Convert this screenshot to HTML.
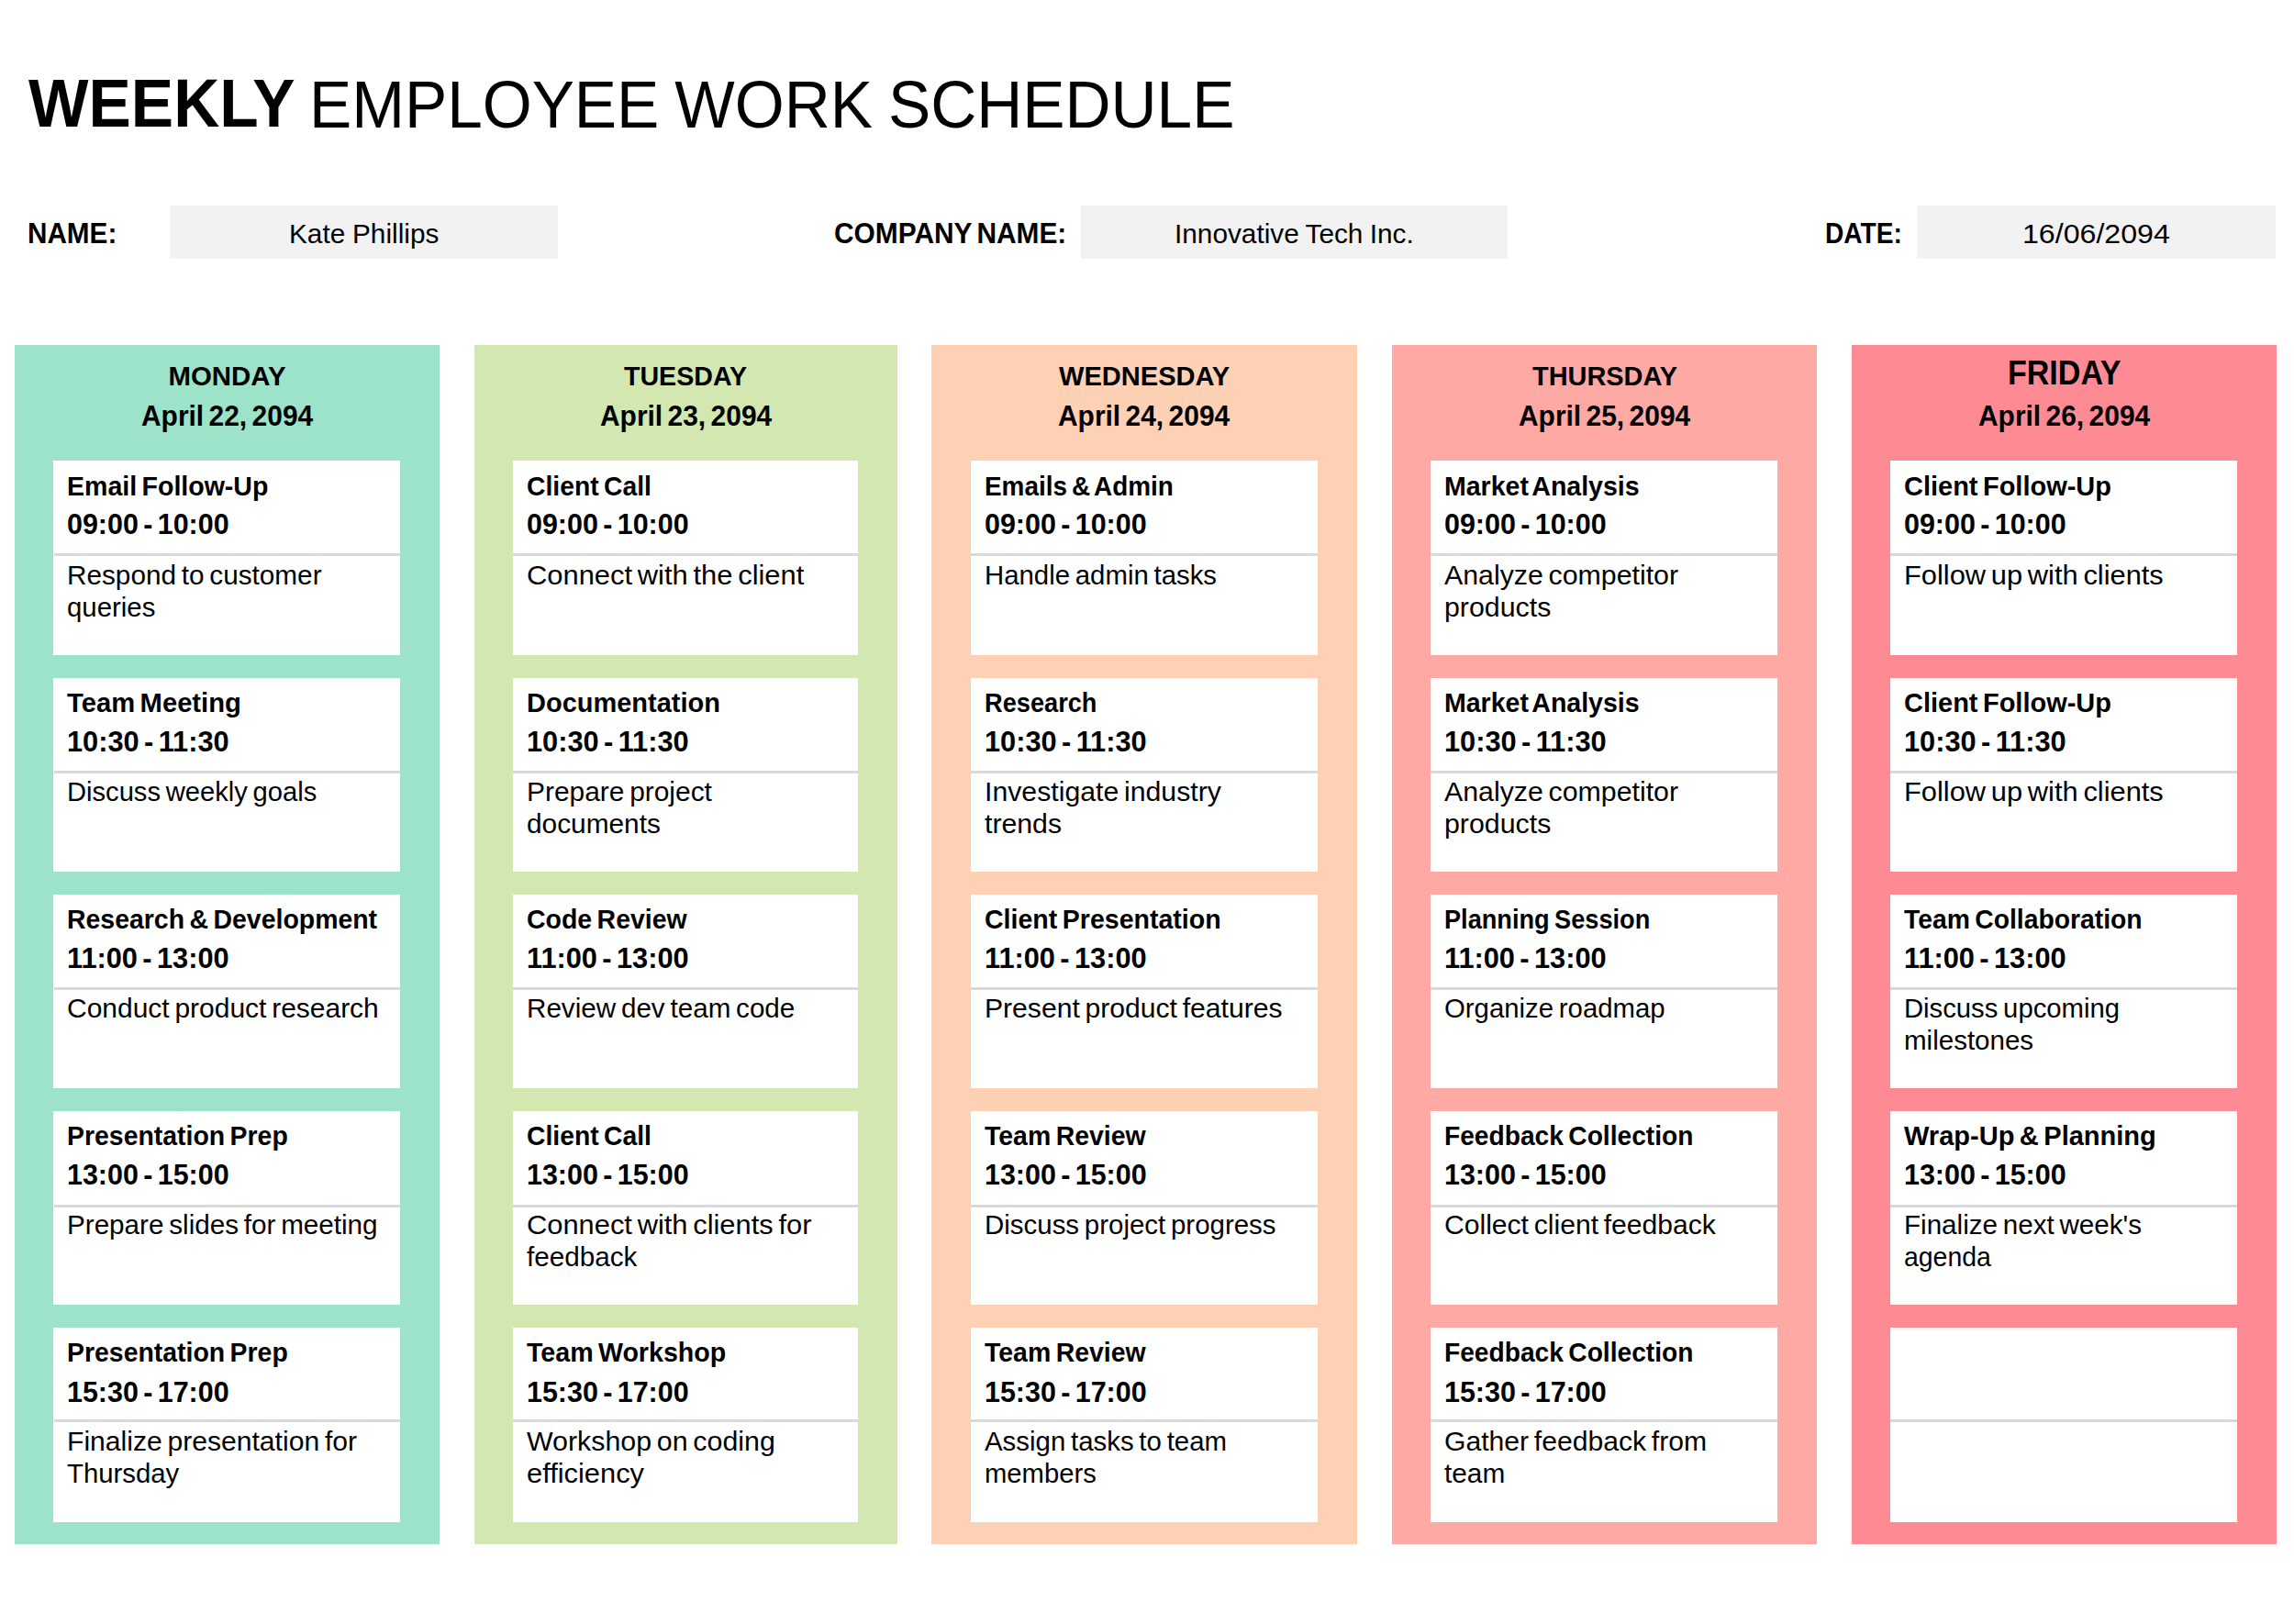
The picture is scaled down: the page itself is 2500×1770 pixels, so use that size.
<!DOCTYPE html>
<html lang="en">
<head>
<meta charset="utf-8">
<title>Weekly Employee Work Schedule</title>
<style>
html,body{margin:0;padding:0;background:#fff}
#page{position:relative;width:2500px;height:1770px;overflow:hidden;background:#fff;color:#000;font-family:"Liberation Sans",sans-serif}
#page *{box-sizing:border-box}
.title,.fields,.board,.col,.card,.rule,.box,.t{position:absolute;margin:0;padding:0;border:0}
.title,.fields,.board{left:0;top:0;width:2500px;height:0}
.card{background:#fff}.rule{background:#d9d9d9;height:3px}.box{background:#f2f2f2}
.t{white-space:pre;font-variant-ligatures:none;transform-origin:0 0}
.tb{font-size:73.29px;font-weight:700;line-height:95px;height:95px}
.tr{font-size:73.13px;font-weight:400;line-height:95px;height:95px}
.lb{font-size:31.5px;font-weight:700;line-height:41px;height:41px}
.fv{font-size:30.3px;font-weight:400;line-height:39px;height:39px}
.fd{font-size:30.1px;font-weight:400;line-height:39px;height:39px}
.dn{font-size:29.45px;font-weight:700;line-height:38px;height:38px}
.dF{font-size:36.26px;font-weight:700;line-height:47px;height:47px}
.dd{font-size:31.05px;font-weight:700;line-height:40px;height:40px}
.ct{font-size:30px;font-weight:700;line-height:39px;height:39px}
.cm{font-size:31.14px;font-weight:700;line-height:40px;height:40px}
.cb{font-size:30px;font-weight:400;line-height:39px;height:39px}
</style>
</head>
<body>
<div id="page">
<h1 class="title">
  <span class="t tb" style="left:30.5px;top:65.8px;transform:scaleX(0.9474)">WEEKLY</span>
  <span class="t tr" style="left:337px;top:65.8px;transform:scaleX(0.9480);word-spacing:-2.37px">EMPLOYEE WORK SCHEDULE</span>
</h1>
<div class="fields">
  <label class="t lb" style="left:29.5px;top:233.5px;transform:scaleX(0.9422)">NAME:</label>
  <div class="box" style="left:185px;top:224px;width:423px;height:58px"><span class="t fv" style="left:129.83px;top:11px;transform:scaleX(0.9828);word-spacing:-0.54px">Kate Phillips</span></div>
  <label class="t lb" style="left:909px;top:233.5px;transform:scaleX(0.9487);word-spacing:-3.07px">COMPANY NAME:</label>
  <div class="box" style="left:1178px;top:224px;width:465px;height:58px"><span class="t fv" style="left:101.86px;top:11px;transform:scaleX(0.9829);word-spacing:-1.01px">Innovative Tech Inc.</span></div>
  <label class="t lb" style="left:1988.5px;top:233.5px;transform:scaleX(0.8928)">DATE:</label>
  <div class="box" style="left:2089px;top:224px;width:391px;height:58px"><span class="t fd" style="left:115.11px;top:11px;transform:scaleX(1.0674)">16/06/2094</span></div>
</div>
<main class="board">
  <section class="col" style="left:16px;top:376px;width:463px;height:1307px;background:#9de3c9">
    <h2 class="t dn" style="left:167.42px;top:14.5px;transform:scaleX(1.0000)">MONDAY</h2>
    <div class="t dd" style="left:137.89px;top:57.9px;transform:scaleX(0.9640);word-spacing:-3.02px">April 22, 2094</div>
    <article class="card" style="left:42px;top:126px;width:378px;height:212px">
      <h3 class="t ct" style="left:15.39px;top:7.8px;transform:scaleX(0.9508);word-spacing:-2.6px">Email Follow-Up</h3>
      <div class="t cm" style="left:15.39px;top:50.3px;transform:scaleX(0.9781);word-spacing:-3.15px">09:00 - 10:00</div>
      <div class="rule" style="left:1px;top:101px;width:377px"></div>
      <p class="t cb" style="left:15px;top:104.9px;transform:scaleX(0.9908);word-spacing:-2.51px">Respond to customer</p>
      <p class="t cb" style="left:15px;top:140.1px;transform:scaleX(0.9789)">queries</p>
    </article>
    <article class="card" style="left:42px;top:363px;width:378px;height:211px">
      <h3 class="t ct" style="left:15.39px;top:6.8px;transform:scaleX(0.9734);word-spacing:-2.74px">Team Meeting</h3>
      <div class="t cm" style="left:15.39px;top:49.6px;transform:scaleX(0.9881);word-spacing:-3.2px">10:30 - 11:30</div>
      <div class="rule" style="left:1px;top:101px;width:377px"></div>
      <p class="t cb" style="left:15px;top:103.9px;transform:scaleX(0.9712);word-spacing:-2.4px">Discuss weekly goals</p>
    </article>
    <article class="card" style="left:42px;top:599px;width:378px;height:211px">
      <h3 class="t ct" style="left:15.39px;top:6.8px;transform:scaleX(0.9480);word-spacing:-2.59px">Research &amp; Development</h3>
      <div class="t cm" style="left:15.39px;top:49.7px;transform:scaleX(0.9881);word-spacing:-3.2px">11:00 - 13:00</div>
      <div class="rule" style="left:1px;top:101px;width:377px"></div>
      <p class="t cb" style="left:15px;top:104px;transform:scaleX(0.9992);word-spacing:-2.57px">Conduct product research</p>
    </article>
    <article class="card" style="left:42px;top:835px;width:378px;height:211px">
      <h3 class="t ct" style="left:15.39px;top:6.8px;transform:scaleX(0.9473);word-spacing:-2.58px">Presentation Prep</h3>
      <div class="t cm" style="left:15.39px;top:50px;transform:scaleX(0.9781);word-spacing:-3.15px">13:00 - 15:00</div>
      <div class="rule" style="left:1px;top:102px;width:377px"></div>
      <p class="t cb" style="left:15px;top:104px;transform:scaleX(0.9880);word-spacing:-2.49px">Prepare slides for meeting</p>
    </article>
    <article class="card" style="left:42px;top:1071px;width:378px;height:212px">
      <h3 class="t ct" style="left:15.39px;top:6.8px;transform:scaleX(0.9473);word-spacing:-2.58px">Presentation Prep</h3>
      <div class="t cm" style="left:15.39px;top:50.7px;transform:scaleX(0.9781);word-spacing:-3.15px">15:30 - 17:00</div>
      <div class="rule" style="left:1px;top:100px;width:377px"></div>
      <p class="t cb" style="left:15px;top:104px;transform:scaleX(1.0032);word-spacing:-2.59px">Finalize presentation for</p>
      <p class="t cb" style="left:15px;top:139.2px;transform:scaleX(0.9778)">Thursday</p>
    </article>
  </section>
  <section class="col" style="left:517px;top:376px;width:461px;height:1307px;background:#d3e8b0">
    <h2 class="t dn" style="left:163.48px;top:14.5px;transform:scaleX(0.9715)">TUESDAY</h2>
    <div class="t dd" style="left:136.89px;top:57.9px;transform:scaleX(0.9640);word-spacing:-3.02px">April 23, 2094</div>
    <article class="card" style="left:42px;top:126px;width:376px;height:212px">
      <h3 class="t ct" style="left:15.09px;top:7.8px;transform:scaleX(0.9430);word-spacing:-2.56px">Client Call</h3>
      <div class="t cm" style="left:15.09px;top:50.3px;transform:scaleX(0.9781);word-spacing:-3.15px">09:00 - 10:00</div>
      <div class="rule" style="left:0px;top:101px;width:376px"></div>
      <p class="t cb" style="left:14.69px;top:104.9px;transform:scaleX(1.0295);word-spacing:-2.73px">Connect with the client</p>
    </article>
    <article class="card" style="left:42px;top:363px;width:376px;height:211px">
      <h3 class="t ct" style="left:15.09px;top:6.8px;transform:scaleX(0.9660)">Documentation</h3>
      <div class="t cm" style="left:15.09px;top:49.6px;transform:scaleX(0.9881);word-spacing:-3.2px">10:30 - 11:30</div>
      <div class="rule" style="left:0px;top:101px;width:376px"></div>
      <p class="t cb" style="left:14.69px;top:103.9px;transform:scaleX(0.9967);word-spacing:-2.54px">Prepare project</p>
      <p class="t cb" style="left:14.69px;top:139.1px;transform:scaleX(0.9940)">documents</p>
    </article>
    <article class="card" style="left:42px;top:599px;width:376px;height:211px">
      <h3 class="t ct" style="left:15.09px;top:6.8px;transform:scaleX(0.9488);word-spacing:-2.59px">Code Review</h3>
      <div class="t cm" style="left:15.09px;top:49.7px;transform:scaleX(0.9881);word-spacing:-3.2px">11:00 - 13:00</div>
      <div class="rule" style="left:0px;top:101px;width:376px"></div>
      <p class="t cb" style="left:14.69px;top:104px;transform:scaleX(0.9876);word-spacing:-2.5px">Review dev team code</p>
    </article>
    <article class="card" style="left:42px;top:835px;width:376px;height:211px">
      <h3 class="t ct" style="left:15.09px;top:6.8px;transform:scaleX(0.9430);word-spacing:-2.56px">Client Call</h3>
      <div class="t cm" style="left:15.09px;top:50px;transform:scaleX(0.9781);word-spacing:-3.15px">13:00 - 15:00</div>
      <div class="rule" style="left:0px;top:102px;width:376px"></div>
      <p class="t cb" style="left:14.69px;top:104px;transform:scaleX(1.0280);word-spacing:-2.73px">Connect with clients for</p>
      <p class="t cb" style="left:14.69px;top:139.2px;transform:scaleX(0.9878)">feedback</p>
    </article>
    <article class="card" style="left:42px;top:1071px;width:376px;height:212px">
      <h3 class="t ct" style="left:15.09px;top:6.8px;transform:scaleX(0.9540);word-spacing:-2.84px">Team Workshop</h3>
      <div class="t cm" style="left:15.09px;top:50.7px;transform:scaleX(0.9781);word-spacing:-3.15px">15:30 - 17:00</div>
      <div class="rule" style="left:0px;top:100px;width:376px"></div>
      <p class="t cb" style="left:14.69px;top:104px;transform:scaleX(1.0116);word-spacing:-2.63px">Workshop on coding</p>
      <p class="t cb" style="left:14.69px;top:139.2px;transform:scaleX(1.0277)">efficiency</p>
    </article>
  </section>
  <section class="col" style="left:1015px;top:376px;width:464px;height:1307px;background:#fed1b5">
    <h2 class="t dn" style="left:138.88px;top:14.5px;transform:scaleX(0.9872)">WEDNESDAY</h2>
    <div class="t dd" style="left:138.39px;top:57.9px;transform:scaleX(0.9640);word-spacing:-3.02px">April 24, 2094</div>
    <article class="card" style="left:43px;top:126px;width:378px;height:212px">
      <h3 class="t ct" style="left:15px;top:7.8px;transform:scaleX(0.9305);word-spacing:-3.03px">Emails &amp; Admin</h3>
      <div class="t cm" style="left:15px;top:50.3px;transform:scaleX(0.9781);word-spacing:-3.15px">09:00 - 10:00</div>
      <div class="rule" style="left:0px;top:101px;width:378px"></div>
      <p class="t cb" style="left:14.59px;top:104.9px;transform:scaleX(0.9785);word-spacing:-2.44px">Handle admin tasks</p>
    </article>
    <article class="card" style="left:43px;top:363px;width:378px;height:211px">
      <h3 class="t ct" style="left:15px;top:6.8px;transform:scaleX(0.9064)">Research</h3>
      <div class="t cm" style="left:15px;top:49.6px;transform:scaleX(0.9881);word-spacing:-3.2px">10:30 - 11:30</div>
      <div class="rule" style="left:0px;top:101px;width:378px"></div>
      <p class="t cb" style="left:14.59px;top:103.9px;transform:scaleX(1.0079);word-spacing:-2.6px">Investigate industry</p>
      <p class="t cb" style="left:14.59px;top:139.1px;transform:scaleX(1.0079)">trends</p>
    </article>
    <article class="card" style="left:43px;top:599px;width:378px;height:211px">
      <h3 class="t ct" style="left:15px;top:6.8px;transform:scaleX(0.9515);word-spacing:-2.61px">Client Presentation</h3>
      <div class="t cm" style="left:15px;top:49.7px;transform:scaleX(0.9881);word-spacing:-3.2px">11:00 - 13:00</div>
      <div class="rule" style="left:0px;top:101px;width:378px"></div>
      <p class="t cb" style="left:14.59px;top:104px;transform:scaleX(1.0035);word-spacing:-2.58px">Present product features</p>
    </article>
    <article class="card" style="left:43px;top:835px;width:378px;height:211px">
      <h3 class="t ct" style="left:15px;top:6.8px;transform:scaleX(0.9480);word-spacing:-2.59px">Team Review</h3>
      <div class="t cm" style="left:15px;top:50px;transform:scaleX(0.9781);word-spacing:-3.15px">13:00 - 15:00</div>
      <div class="rule" style="left:0px;top:102px;width:378px"></div>
      <p class="t cb" style="left:14.59px;top:104px;transform:scaleX(0.9816);word-spacing:-2.47px">Discuss project progress</p>
    </article>
    <article class="card" style="left:43px;top:1071px;width:378px;height:212px">
      <h3 class="t ct" style="left:15px;top:6.8px;transform:scaleX(0.9480);word-spacing:-2.59px">Team Review</h3>
      <div class="t cm" style="left:15px;top:50.7px;transform:scaleX(0.9781);word-spacing:-3.15px">15:30 - 17:00</div>
      <div class="rule" style="left:0px;top:100px;width:378px"></div>
      <p class="t cb" style="left:14.59px;top:104px;transform:scaleX(0.9798);word-spacing:-2.45px">Assign tasks to team</p>
      <p class="t cb" style="left:14.59px;top:139.2px;transform:scaleX(0.9738)">members</p>
    </article>
  </section>
  <section class="col" style="left:1517px;top:376px;width:463px;height:1307px;background:#fea9a4">
    <h2 class="t dn" style="left:152.52px;top:14.5px;transform:scaleX(0.9821)">THURSDAY</h2>
    <div class="t dd" style="left:137.89px;top:57.9px;transform:scaleX(0.9640);word-spacing:-3.02px">April 25, 2094</div>
    <article class="card" style="left:42px;top:126px;width:378px;height:212px">
      <h3 class="t ct" style="left:15px;top:7.8px;transform:scaleX(0.9507);word-spacing:-3.67px">Market Analysis</h3>
      <div class="t cm" style="left:15px;top:50.3px;transform:scaleX(0.9781);word-spacing:-3.15px">09:00 - 10:00</div>
      <div class="rule" style="left:0px;top:101px;width:378px"></div>
      <p class="t cb" style="left:14.59px;top:104.9px;transform:scaleX(1.0099);word-spacing:-2.62px">Analyze competitor</p>
      <p class="t cb" style="left:14.59px;top:140.1px;transform:scaleX(1.0110)">products</p>
    </article>
    <article class="card" style="left:42px;top:363px;width:378px;height:211px">
      <h3 class="t ct" style="left:15px;top:6.8px;transform:scaleX(0.9507);word-spacing:-3.67px">Market Analysis</h3>
      <div class="t cm" style="left:15px;top:49.6px;transform:scaleX(0.9881);word-spacing:-3.2px">10:30 - 11:30</div>
      <div class="rule" style="left:0px;top:101px;width:378px"></div>
      <p class="t cb" style="left:14.59px;top:103.9px;transform:scaleX(1.0099);word-spacing:-2.62px">Analyze competitor</p>
      <p class="t cb" style="left:14.59px;top:139.1px;transform:scaleX(1.0110)">products</p>
    </article>
    <article class="card" style="left:42px;top:599px;width:378px;height:211px">
      <h3 class="t ct" style="left:15px;top:6.8px;transform:scaleX(0.9053);word-spacing:-2.32px">Planning Session</h3>
      <div class="t cm" style="left:15px;top:49.7px;transform:scaleX(0.9881);word-spacing:-3.2px">11:00 - 13:00</div>
      <div class="rule" style="left:0px;top:101px;width:378px"></div>
      <p class="t cb" style="left:14.59px;top:104px;transform:scaleX(0.9780);word-spacing:-2.44px">Organize roadmap</p>
    </article>
    <article class="card" style="left:42px;top:835px;width:378px;height:211px">
      <h3 class="t ct" style="left:15px;top:6.8px;transform:scaleX(0.9384);word-spacing:-2.53px">Feedback Collection</h3>
      <div class="t cm" style="left:15px;top:50px;transform:scaleX(0.9781);word-spacing:-3.15px">13:00 - 15:00</div>
      <div class="rule" style="left:0px;top:102px;width:378px"></div>
      <p class="t cb" style="left:14.59px;top:104px;transform:scaleX(1.0031);word-spacing:-2.59px">Collect client feedback</p>
    </article>
    <article class="card" style="left:42px;top:1071px;width:378px;height:212px">
      <h3 class="t ct" style="left:15px;top:6.8px;transform:scaleX(0.9384);word-spacing:-2.53px">Feedback Collection</h3>
      <div class="t cm" style="left:15px;top:50.7px;transform:scaleX(0.9781);word-spacing:-3.15px">15:30 - 17:00</div>
      <div class="rule" style="left:0px;top:100px;width:378px"></div>
      <p class="t cb" style="left:14.59px;top:104px;transform:scaleX(1.0038);word-spacing:-2.6px">Gather feedback from</p>
      <p class="t cb" style="left:14.59px;top:139.2px;transform:scaleX(0.9923)">team</p>
    </article>
  </section>
  <section class="col" style="left:2018px;top:376px;width:463px;height:1307px;background:#fe8b94">
    <h2 class="t dF" style="left:169.72px;top:7px;transform:scaleX(0.9387)">FRIDAY</h2>
    <div class="t dd" style="left:137.89px;top:57.9px;transform:scaleX(0.9640);word-spacing:-3.02px">April 26, 2094</div>
    <article class="card" style="left:42px;top:126px;width:378px;height:212px">
      <h3 class="t ct" style="left:15.39px;top:7.8px;transform:scaleX(0.9658);word-spacing:-2.69px">Client Follow-Up</h3>
      <div class="t cm" style="left:15.39px;top:50.3px;transform:scaleX(0.9781);word-spacing:-3.15px">09:00 - 10:00</div>
      <div class="rule" style="left:0px;top:101px;width:378px"></div>
      <p class="t cb" style="left:15px;top:104.9px;transform:scaleX(1.0270);word-spacing:-2.71px">Follow up with clients</p>
    </article>
    <article class="card" style="left:42px;top:363px;width:378px;height:211px">
      <h3 class="t ct" style="left:15.39px;top:6.8px;transform:scaleX(0.9658);word-spacing:-2.69px">Client Follow-Up</h3>
      <div class="t cm" style="left:15.39px;top:49.6px;transform:scaleX(0.9881);word-spacing:-3.2px">10:30 - 11:30</div>
      <div class="rule" style="left:0px;top:101px;width:378px"></div>
      <p class="t cb" style="left:15px;top:103.9px;transform:scaleX(1.0270);word-spacing:-2.71px">Follow up with clients</p>
    </article>
    <article class="card" style="left:42px;top:599px;width:378px;height:211px">
      <h3 class="t ct" style="left:15.39px;top:6.8px;transform:scaleX(0.9431);word-spacing:-2.56px">Team Collaboration</h3>
      <div class="t cm" style="left:15.39px;top:49.7px;transform:scaleX(0.9881);word-spacing:-3.2px">11:00 - 13:00</div>
      <div class="rule" style="left:0px;top:101px;width:378px"></div>
      <p class="t cb" style="left:15px;top:104px;transform:scaleX(0.9747);word-spacing:-2.42px">Discuss upcoming</p>
      <p class="t cb" style="left:15px;top:139.2px;transform:scaleX(0.9841)">milestones</p>
    </article>
    <article class="card" style="left:42px;top:835px;width:378px;height:211px">
      <h3 class="t ct" style="left:15.39px;top:6.8px;transform:scaleX(0.9676);word-spacing:-2.7px">Wrap-Up &amp; Planning</h3>
      <div class="t cm" style="left:15.39px;top:50px;transform:scaleX(0.9781);word-spacing:-3.15px">13:00 - 15:00</div>
      <div class="rule" style="left:0px;top:102px;width:378px"></div>
      <p class="t cb" style="left:15px;top:104px;transform:scaleX(0.9862);word-spacing:-2.48px">Finalize next week's</p>
      <p class="t cb" style="left:15px;top:139.2px;transform:scaleX(0.9471)">agenda</p>
    </article>
    <article class="card" style="left:42px;top:1071px;width:378px;height:212px">
      <div class="rule" style="left:0px;top:100px;width:378px"></div>
    </article>
  </section>
</main>
</div>
</body>
</html>
